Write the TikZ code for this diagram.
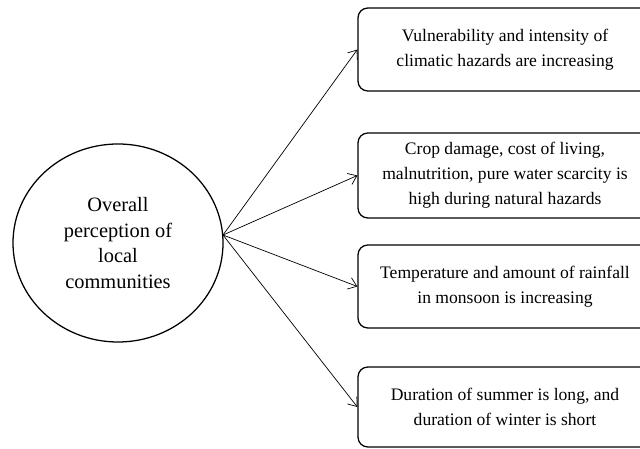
\documentclass[tikz,border=0pt]{standalone}
\usepackage{fontspec}
\setmainfont{Liberation Serif}
\usetikzlibrary{positioning, arrows.meta, shapes.geometric}

\begin{document}
\begin{tikzpicture}[
    perception/.style={draw=black, line width=0.9pt, ellipse, inner sep=0pt,
      minimum width=5.25cm, minimum height=4.95cm,
      align=center, font=\fontsize{14.5}{18.4}\selectfont},
    finding/.style={draw=black, line width=0.9pt, rounded corners=7pt,
      minimum width=7.35cm, minimum height=2.075cm, inner sep=0pt,
      align=center, font=\fontsize{12.5}{17.7}\selectfont},
    link/.style={line width=0.5pt, -{Straight Barb[length=2mm, width=3mm]}}
  ]
  \useasboundingbox (0,0) rectangle (16,11.2);
  \clip (0,0) rectangle (16,11.2);

  % centre
  \node[perception] (overall) at (2.95,5.125) {Overall\\perception of\\local\\communities};
  \coordinate (hub) at (5.575,5.325);

  % findings
  \node[finding] (hazards) at (12.625,9.9625) {Vulnerability and intensity of\\climatic hazards are increasing};
  \node[finding, minimum height=2.125cm] (damage) at (12.625,6.8125) {Crop damage, cost of living,\\malnutrition, pure water scarcity is\\high during natural hazards};
  \node[finding] (rainfall) at (12.625,4.0375) {Temperature and amount of rainfall\\in monsoon is increasing};
  \node[finding, minimum height=2.0cm] (seasons) at (12.625,1.025) {Duration of summer is long, and\\duration of winter is short};

  \draw[link] (hub) -- (hazards.west);
  \draw[link] (hub) -- (damage.west);
  \draw[link] (hub) -- (rainfall.west);
  \draw[link] (hub) -- (seasons.west);

\end{tikzpicture}
\end{document}
